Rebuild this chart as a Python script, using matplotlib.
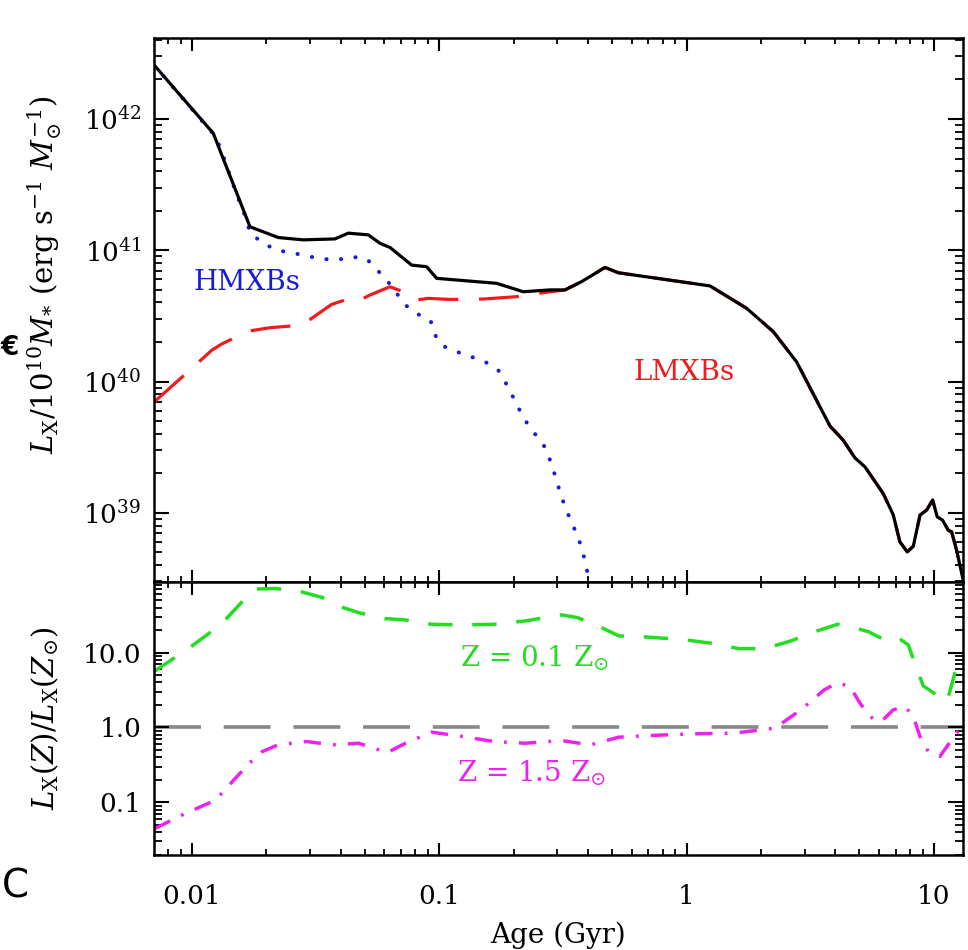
import matplotlib
matplotlib.use("Agg")
import matplotlib.pyplot as plt
from matplotlib.ticker import LogLocator, FixedLocator, NullFormatter, FixedFormatter

plt.rcParams['font.family'] = ['DejaVu Serif', 'DejaVu Sans']
plt.rcParams['mathtext.fontset'] = 'dejavuserif'

# ---------------- data ----------------
age_total = [0.00702, 0.01219, 0.01716, 0.02233, 0.02818, 0.03785, 0.04285, 0.05164, 0.05755, 0.0632,
             0.0773, 0.0889, 0.0976, 0.133, 0.1706, 0.2187, 0.2804, 0.3224, 0.3765, 0.4195,
             0.4677, 0.5294, 1.2436, 1.750, 2.242, 2.787, 3.253, 3.800, 4.301, 4.797,
             5.265, 6.243, 6.853, 7.29, 7.81, 8.26, 8.79, 9.35, 9.89, 10.32,
             10.85, 11.43, 11.80, 12.36, 13.15, 13.6]
lx_total = [2.58e42, 7.78e41, 1.51e41, 1.25e41, 1.20e41, 1.22e41, 1.35e41, 1.31e41, 1.13e41, 1.05e41,
            7.71e40, 7.49e40, 6.11e40, 5.82e40, 5.60e40, 4.83e40, 4.99e40, 4.99e40, 5.77e40, 6.53e40,
            7.40e40, 6.74e40, 5.35e40, 3.61e40, 2.40e40, 1.41e40, 8.05e39, 4.59e39, 3.57e39, 2.62e39,
            2.24e39, 1.40e39, 9.64e38, 6.0e38, 5.04e38, 5.56e38, 9.59e38, 1.05e39, 1.25e39, 9.31e38,
            8.79e38, 7.37e38, 7.16e38, 5.19e38, 3.06e38, 2.2e38]

age_hmxb = [0.00702, 0.01219, 0.01297, 0.01493, 0.01664, 0.01716, 0.01943, 0.0220, 0.0253, 0.0291,
            0.03345, 0.03847, 0.04423, 0.05086, 0.05582, 0.06126, 0.0673, 0.0738, 0.0810, 0.0923,
            0.0961, 0.1038, 0.1183, 0.1352, 0.1545, 0.1732, 0.1861, 0.1991, 0.212, 0.2277,
            0.2476, 0.27, 0.2829, 0.2956, 0.3077, 0.3224, 0.3408, 0.3614, 0.3787, 0.3908,
            0.403, 0.42]
lx_hmxb = [2.58e42, 7.7e41, 6.15e41, 2.88e41, 1.70e41, 1.35e41, 1.13e41, 1.00e41, 9.58e40, 9.04e40,
           8.61e40, 8.42e40, 8.92e40, 8.61e40, 7.15e40, 5.93e40, 4.69e40, 3.76e40, 3.30e40, 2.90e40,
           2.26e40, 1.86e40, 1.68e40, 1.54e40, 1.40e40, 1.22e40, 9.68e39, 7.57e39, 5.98e39, 4.73e39,
           3.84e39, 3.09e39, 2.40e39, 1.86e39, 1.44e39, 1.11e39, 8.67e38, 6.75e38, 5.25e38, 4.06e38,
           3.10e38, 2.2e38]

age_lmxb = [0.00702, 0.01012, 0.01201, 0.01318, 0.0169, 0.02067, 0.02777, 0.03048, 0.03671, 0.04354,
            0.04778, 0.05246, 0.06318, 0.07152, 0.07973, 0.09026, 0.1105, 0.1507, 0.2056, 0.2804,
            0.3224, 0.3765, 0.4195, 0.4677, 0.5294, 1.2436, 1.750, 2.242, 2.787, 3.253,
            3.800, 4.301, 4.797, 5.265, 6.243, 6.853, 7.29, 7.81, 8.26, 8.79,
            9.35, 9.89, 10.32, 10.85, 11.43, 11.80, 12.36, 13.15, 13.6]
lx_lmxb = [6.97e39, 1.29e40, 1.73e40, 1.93e40, 2.42e40, 2.57e40, 2.69e40, 3.03e40, 3.87e40, 4.30e40,
           4.17e40, 4.56e40, 5.27e40, 4.83e40, 4.17e40, 4.30e40, 4.22e40, 4.25e40, 4.43e40, 4.83e40,
           4.98e40, 5.77e40, 6.53e40, 7.40e40, 6.74e40, 5.35e40, 3.61e40, 2.40e40, 1.41e40, 8.05e39,
           4.59e39, 3.57e39, 2.62e39, 2.24e39, 1.40e39, 9.64e38, 6.0e38, 5.04e38, 5.56e38, 9.59e38,
           1.05e39, 1.25e39, 9.31e38, 8.79e38, 7.37e38, 7.16e38, 5.19e38, 3.06e38, 2.2e38]

age_z01 = [0.00706, 0.00976, 0.01157, 0.0137, 0.01585, 0.01789, 0.0217, 0.02767, 0.0336, 0.04077,
           0.04718, 0.0601, 0.0730, 0.0930, 0.1244, 0.1664, 0.2226, 0.3124, 0.3613, 0.4386,
           0.5324, 0.6784, 0.9526, 1.274, 1.624, 2.070, 2.637, 3.360, 4.079, 4.58,
           5.43, 6.65, 7.37, 7.88, 8.52, 9.06, 10.58, 11.27, 11.6, 12.37,
           12.75, 13.36]
ratio_z01 = [5.65, 11.6, 17.5, 27.9, 46.7, 70.5, 71.9, 64.9, 54.5, 40.0,
             34.2, 28.5, 27.3, 23.9, 23.4, 23.9, 26.5, 31.9, 29.4, 22.7,
             16.7, 16.2, 15.0, 13.3, 11.3, 11.3, 14.3, 19.4, 23.9, 22.2,
             19.05, 13.6, 14.8, 12.7, 6.19, 3.60, 2.54, 2.22, 3.02, 6.5,
             8.85, 9.31]

age_z15 = [0.00706, 0.00908, 0.01244, 0.01474, 0.01704, 0.01924, 0.02225, 0.02905, 0.03701, 0.04718,
           0.0616, 0.0730, 0.093, 0.1244, 0.1664, 0.2226, 0.3124, 0.4078, 0.5324, 0.712,
           1.05, 1.547, 2.280, 2.905, 3.613, 4.079, 4.58, 5.03, 5.43, 5.87,
           6.24, 6.85, 7.64, 8.26, 8.79, 9.49, 10.58, 11.43, 12.37, 13.36]
ratio_z15 = [0.0445, 0.0673, 0.107, 0.198, 0.332, 0.476, 0.585, 0.649, 0.585, 0.616,
             0.462, 0.616, 0.866, 0.757, 0.649, 0.616, 0.669, 0.585, 0.742, 0.781,
             0.822, 0.839, 0.98, 1.73, 3.20, 3.94, 3.52, 2.11, 1.48, 1.20,
             1.27, 1.72, 1.91, 1.40, 0.759, 0.479, 0.41, 0.588, 0.842, 1.27]

xticks = [0.01, 0.1, 1, 10]
xtick_labels = ["0.01", "0.1", "1", "10"]
top_yticks = [1e39, 1e40, 1e41, 1e42]
top_ytick_labels = [r"$10^{39}$", r"$10^{40}$", r"$10^{41}$", r"$10^{42}$"]
bot_yticks = [0.1, 1.0, 10.0]
bot_ytick_labels = ["0.1", "1.0", "10.0"]

# ---------------- figure ----------------
W, H = 968, 950
fig = plt.figure(figsize=(W / 100, H / 100), dpi=100)
L, R = 154, 963
T1, B1 = 38, 582
B2 = 855
ax1 = fig.add_axes([L / W, 1 - B1 / H, (R - L) / W, (B1 - T1) / H])
ax2 = fig.add_axes([L / W, 1 - B2 / H, (R - L) / W, (B2 - B1) / H])

XLIM = (0.00702, 13.12)

lw_main = 2.3
ax1.plot(age_lmxb, lx_lmxb, color='#ee1c1c', lw=lw_main, dashes=(12.5, 6.5), zorder=2)
ax1.plot(age_hmxb, lx_hmxb, color='#1a1ad8', lw=2.9, dashes=(0.05, 3.6),
         dash_capstyle='round', zorder=3)
ax1.plot(age_total, lx_total, color='black', lw=lw_main, zorder=4)

ax1.text(0.01663, 5.73e40, "HMXBs", color='#1a1ad8', fontsize=20, ha='center', va='center')
ax1.text(0.976, 1.18e40, "LMXBs", color='#ee1c1c', fontsize=20, ha='center', va='center')

ax2.axhline(1.0, color='#888888', lw=2.6, dashes=(13, 6.3), zorder=1)
ax2.plot(age_z01, ratio_z01, color='#22dd22', lw=2.5, dashes=(7, 5.7), zorder=2)
ax2.plot(age_z15, ratio_z15, color='#ee22ee', lw=2.5, dashes=(5, 3.5, 0.8, 3.5), zorder=2)
ax2.text(0.1213, 6.45, r"Z = 0.1 Z$_{\odot}$", color='#22dd22', fontsize=20,
         ha='left', va='baseline')
ax2.text(0.118, 0.19, r"Z = 1.5 Z$_{\odot}$", color='#ee22ee', fontsize=20,
         ha='left', va='baseline')

for ax in (ax1, ax2):
    ax.set_xscale('log')
    ax.set_yscale('log')
    ax.set_xlim(*XLIM)
    for sp in ax.spines.values():
        sp.set_linewidth(1.8)
    ax.xaxis.set_major_locator(FixedLocator(xticks))
    ax.xaxis.set_minor_locator(LogLocator(base=10, subs=range(2, 10), numticks=20))
    ax.yaxis.set_minor_locator(LogLocator(base=10, subs=range(2, 10), numticks=20))
    ax.yaxis.set_minor_formatter(NullFormatter())
    ax.xaxis.set_minor_formatter(NullFormatter())
    ax.tick_params(axis='x', which='major', direction='in', top=True, bottom=True,
                   length=9, width=1.5, labelsize=19, pad=21)
    ax.tick_params(axis='x', which='minor', direction='in', top=True, bottom=True,
                   length=4.5, width=1.3)
    ax.tick_params(axis='y', which='major', direction='in', left=True, right=True,
                   length=11, width=1.5, labelsize=19, pad=9)
    ax.tick_params(axis='y', which='minor', direction='in', left=True, right=True,
                   length=5.5, width=1.3)

ax1.set_ylim(2.97e38, 4.14e42)
ax1.yaxis.set_major_locator(FixedLocator(top_yticks))
ax1.yaxis.set_major_formatter(FixedFormatter(top_ytick_labels))
ax1.tick_params(axis='x', labelbottom=False)

ax2.set_ylim(0.0198, 87.7)
ax2.yaxis.set_major_locator(FixedLocator(bot_yticks))
ax2.yaxis.set_major_formatter(FixedFormatter(bot_ytick_labels))
ax2.xaxis.set_major_formatter(FixedFormatter(xtick_labels))

fig.text(45 / W, 1 - 275 / H,
         r"$L_{\rm X}/10^{10}M_{*}$ (erg s$^{-1}$ $M_{\odot}^{-1}$)",
         rotation=90, fontsize=21, ha='center', va='center')
fig.text(45 / W, 1 - 718 / H, r"$L_{\rm X}(Z)/L_{\rm X}(Z_{\odot})$",
         rotation=90, fontsize=21, ha='center', va='center')
fig.text(558 / W, 1 - 935 / H, "Age (Gyr)", fontsize=20, ha='center', va='center')

# fragments at the left edge of the reference image
fig.text(1 / W, 1 - 348 / H, "\u20ac", fontsize=19, fontweight='bold',
         family='DejaVu Sans', ha='left', va='center')
fig.text(2 / W, 1 - 886 / H, "C", fontsize=28, family='DejaVu Sans',
         ha='left', va='center')

fig.savefig("out.png", dpi=100)
